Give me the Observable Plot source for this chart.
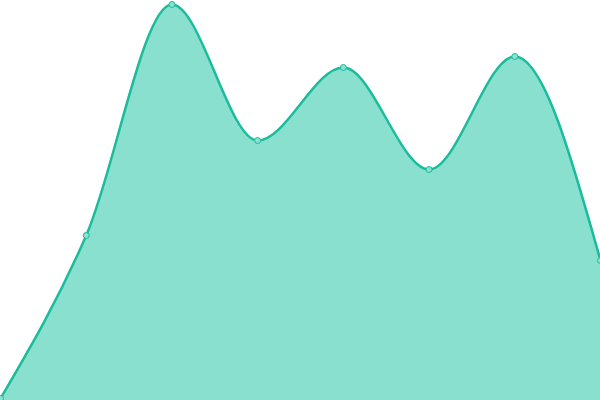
<!DOCTYPE html>
<html><head><meta charset="utf-8">
<script src="https://cdn.jsdelivr.net/npm/d3@7"></script>
<script src="https://cdn.jsdelivr.net/npm/@observablehq/plot@0.6"></script>
<style>html,body{margin:0;padding:0;background:#fff;overflow:hidden}</style>
</head><body><div id="chart"></div>
<script>
const xs = [0, 1, 2, 3, 4, 5, 6, 7];
const values = [2, 165, 396, 260, 333, 231, 344, 140];
const data = xs.map((x, i) => ({x, y: values[i]}));
const chart = Plot.plot({
  width: 600, height: 400,
  margin: 0,
  x: {domain: [0, 7], axis: null},
  y: {domain: [0, 400], axis: null},
  marks: [
    Plot.areaY(data, {x: "x", y: "y", curve: "monotone-x", fill: "#89e0cf"}),
    Plot.line(data, {x: "x", y: "y", curve: "monotone-x", stroke: "#1abc9c", strokeWidth: 2.5}),
    Plot.dot(data, {x: "x", y: "y", r: 3, fill: "#8de0cf", stroke: "#1abc9c", strokeWidth: 1})
  ]
});
document.getElementById("chart").append(chart);
</script></body></html>
